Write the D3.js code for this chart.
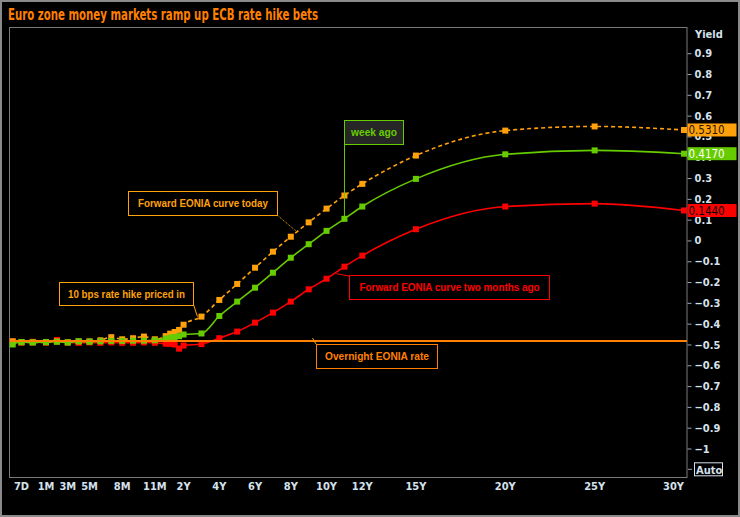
<!DOCTYPE html>
<html><head><meta charset="utf-8">
<script src="https://cdn.jsdelivr.net/npm/d3@7"></script>
<style>
html,body{margin:0;padding:0;background:#000;}
svg{display:block;}
</style></head>
<body>
<svg id="chart" width="740" height="517"></svg>
<script>
// ---------------- data ----------------
const tenors = ["ON","1W","2W","1M","2M","3M","4M","5M","6M","7M","8M","9M","10M","11M","12M","15M","18M","21M",
  "2Y","3Y","4Y","5Y","6Y","7Y","8Y","9Y","10Y","11Y","12Y","15Y","20Y","25Y","30Y"];
const curveToday = [-0.485,-0.49,-0.49,-0.49,-0.485,-0.49,-0.485,-0.485,-0.48,-0.465,-0.475,-0.47,-0.462,-0.475,-0.46,-0.448,-0.44,-0.43,
  -0.405,-0.366,-0.286,-0.209,-0.131,-0.054,0.018,0.087,0.153,0.216,0.272,0.408,0.528,0.548,0.531];
const curveWeekAgo = [-0.50,-0.488,-0.49,-0.488,-0.487,-0.49,-0.485,-0.487,-0.485,-0.483,-0.483,-0.482,-0.482,-0.48,-0.472,-0.467,-0.464,-0.46,
  -0.452,-0.447,-0.363,-0.294,-0.227,-0.155,-0.083,-0.018,0.046,0.104,0.163,0.296,0.414,0.433,0.417];
const curveTwoMonthsAgo = [-0.485,-0.49,-0.487,-0.49,-0.478,-0.49,-0.492,-0.49,-0.492,-0.49,-0.492,-0.492,-0.49,-0.492,-0.496,-0.497,-0.50,-0.52,
  -0.505,-0.498,-0.47,-0.438,-0.395,-0.347,-0.294,-0.235,-0.184,-0.126,-0.073,0.054,0.163,0.177,0.144];
const overnightRate = -0.483;
const lastValues = ["0.5310","0.4170","0.1440"];
const xTickLabels = ["7D","1M","3M","5M","8M","11M","2Y","4Y","6Y","8Y","10Y","12Y","15Y","20Y","25Y","30Y"];
const yTicks = [0.9,0.8,0.7,0.6,0.5,0.4,0.3,0.2,0.1,0,-0.1,-0.2,-0.3,-0.4,-0.5,-0.6,-0.7,-0.8,-0.9,-1];
const title = "Euro zone money markets ramp up ECB rate hike bets";

// ---------------- helpers ----------------
function years(t){
  if(t==="ON") return 1/365;
  const n = parseFloat(t), u = t.slice(-1);
  return u==="D" ? n/365 : u==="W" ? n*7/365 : u==="M" ? n/12 : n;
}

const svg = d3.select("#chart");
const W = 740, H = 517;
const L = 10, R = 687, T = 27, B = 477;

// piecewise tenor scale (short end stretched like the terminal chart)
const x = d3.scaleLinear()
  .domain([1/365, 7/365, 14/365, 1/12, 1, 30])
  .range([12.7, 21.5, 32.7, 46, 165.7, 684]);
const y = d3.scaleLinear().domain([-1.137, 1.026]).range([B, T]);

// background + frame
svg.append("rect").attr("x",0).attr("y",0).attr("width",W).attr("height",H).attr("fill","#000");
svg.append("rect").attr("x",1).attr("y",1).attr("width",W-2).attr("height",H-2)
  .attr("fill","none").attr("stroke","#8a8a8a").attr("stroke-width",2);

// title
svg.append("text").attr("x",8).attr("y",20).text(title)
  .attr("fill","#FF8000").attr("font-family","'DejaVu Sans Condensed','DejaVu Sans',sans-serif")
  .attr("font-weight","bold").attr("font-size",15)
  .attr("textLength",310).attr("lengthAdjust","spacingAndGlyphs");

// plot frame
svg.append("rect").attr("x",L-0.5).attr("y",T+0.5).attr("width",R-L+0.5).attr("height",B-T)
  .attr("fill","none").attr("stroke","#7a7a7a").attr("stroke-width",1);

const axisColor = "#D5E1EC";
const axisFont = "Tahoma,'DejaVu Sans Condensed','DejaVu Sans',sans-serif";

// right axis
const yAxis = d3.axisRight(y).tickValues(yTicks).tickSize(4).tickPadding(3)
  .tickFormat(d => d===0 ? "0" : d3.format("")(+d.toFixed(1)));
const gy = svg.append("g").attr("transform",`translate(${R+0.5},0)`).call(yAxis);
gy.select(".domain").remove();
gy.selectAll(".tick line").attr("stroke","#9aa6b2");
gy.selectAll(".tick text").attr("fill",axisColor).attr("font-family",axisFont)
  .attr("font-weight","bold").attr("font-size",11);

svg.append("text").attr("x",695).attr("y",38).text("Yield")
  .attr("fill",axisColor).attr("font-family",axisFont).attr("font-weight","bold").attr("font-size",11);

// "Auto" button
const autoY = y(-1.1);
svg.append("line").attr("x1",R+1).attr("x2",R+5).attr("y1",autoY).attr("y2",autoY).attr("stroke","#9aa6b2");
svg.append("rect").attr("x",694.5).attr("y",autoY-6.5).attr("width",28).attr("height",13)
  .attr("fill","none").attr("stroke","#D5E1EC").attr("stroke-width",1);
svg.append("text").attr("x",696).attr("y",autoY+4.5).text("Auto")
  .attr("fill",axisColor).attr("font-family",axisFont).attr("font-weight","bold").attr("font-size",11);

// bottom axis labels
svg.append("g").selectAll("text").data(xTickLabels).join("text")
  .attr("x", d => d==="30Y" ? x(years(d)) : x(years(d)))
  .attr("y",490)
  .attr("text-anchor", d => d==="30Y" ? "end" : "middle")
  .attr("fill",axisColor).attr("font-family",axisFont).attr("font-weight","bold").attr("font-size",11)
  .text(d=>d);

// ---------------- series ----------------
const series = [
  {name:"two months ago", vals:curveTwoMonthsAgo, color:"#FF0000", dash:null},
  {name:"today", vals:curveToday, color:"#FFA10A", dash:"4,3"},
  {name:"week ago", vals:curveWeekAgo, color:"#66CC00", dash:null}
];
const line = d3.line().x(d=>x(d.t)).y(d=>y(d.v)).curve(d3.curveMonotoneX);
const plot = svg.append("g");
series.forEach(s => {
  const pts = tenors.map((t,i)=>({t:years(t), v:s.vals[i]}));
  plot.append("path").datum(pts).attr("d",line).attr("fill","none")
    .attr("stroke",s.color).attr("stroke-width",1.6).attr("stroke-dasharray",s.dash);
  plot.selectAll(null).data(pts).join("rect")
    .attr("x",d=>x(d.t)-3).attr("y",d=>y(d.v)-3).attr("width",6).attr("height",6)
    .attr("fill",s.color);
});

// overnight EONIA line
svg.append("line").attr("x1",L).attr("x2",R).attr("y1",y(overnightRate)).attr("y2",y(overnightRate))
  .attr("stroke","#FF8000").attr("stroke-width",2);

// last value tags
const tagData = [
  {v:curveToday[curveToday.length-1], label:lastValues[0], fill:"#FFA10A", text:"#2a1500"},
  {v:curveWeekAgo[curveWeekAgo.length-1], label:lastValues[1], fill:"#66CC00", text:"#FFFFFF"},
  {v:curveTwoMonthsAgo[curveTwoMonthsAgo.length-1], label:lastValues[2], fill:"#FF0000", text:"#000000"}
];
tagData.forEach(d=>{
  svg.append("rect").attr("x",R+0.5).attr("y",y(d.v)-6.5).attr("width",49).attr("height",13).attr("fill",d.fill);
  svg.append("text").attr("x",R+1.5).attr("y",y(d.v)+4.5).text(d.label)
    .attr("fill",d.text).attr("font-family",axisFont).attr("font-size",11.5);
});

// ---------------- annotations ----------------
const annFont = "'Liberation Sans',Arial,sans-serif";
function box(bx,by,bw,bh,txt,color,tl,fill){
  svg.append("rect").attr("x",bx+0.5).attr("y",by+0.5).attr("width",bw).attr("height",bh)
    .attr("fill",fill||"#000").attr("stroke",color).attr("stroke-width",1);
  svg.append("text").attr("x",bx+bw/2+0.5).attr("y",by+bh/2+4).attr("text-anchor","middle")
    .attr("fill",color).attr("font-family",annFont).attr("font-weight","bold").attr("font-size",10)
    .attr("textLength",tl).attr("lengthAdjust","spacingAndGlyphs").text(txt);
}
function leader(x1,y1,x2,y2,color,dash){
  svg.append("line").attr("x1",x1).attr("y1",y1).attr("x2",x2).attr("y2",y2)
    .attr("stroke",color).attr("stroke-width",1).attr("stroke-dasharray",dash||null);
}
const idx = t => tenors.indexOf(t);

// Forward EONIA curve today
leader(277,215, x(years("8Y"))+6, y(curveToday[idx("8Y")])-5, "#FFA10A","1,1");
box(128,191,149,24,"Forward EONIA curve today","#FFA10A",130);

// week ago
leader(344.5,144, x(years("11Y")), y(curveWeekAgo[idx("11Y")]), "#66CC00");
box(344,120,59,24,"week ago","#66CC00",46,"#262626");

// 10 bps rate hike priced in
leader(193,303, x(years("3Y"))-4, y(curveToday[idx("3Y")]), "#FFA10A");
box(59,282,134,23,"10 bps rate hike priced in","#FFA10A",117);

// two months ago
leader(349,276, x(years("11Y"))-8, y(curveTwoMonthsAgo[idx("11Y")])+7, "#FF0000");
box(349,275,200,24,"Forward EONIA curve two months ago","#FF0000",180);

// Overnight EONIA rate
leader(312.5,338, 316,344, "#FFA10A");
box(316,344,121,24,"Overnight  EONIA rate","#FF8000",104);
</script>
</body></html>
